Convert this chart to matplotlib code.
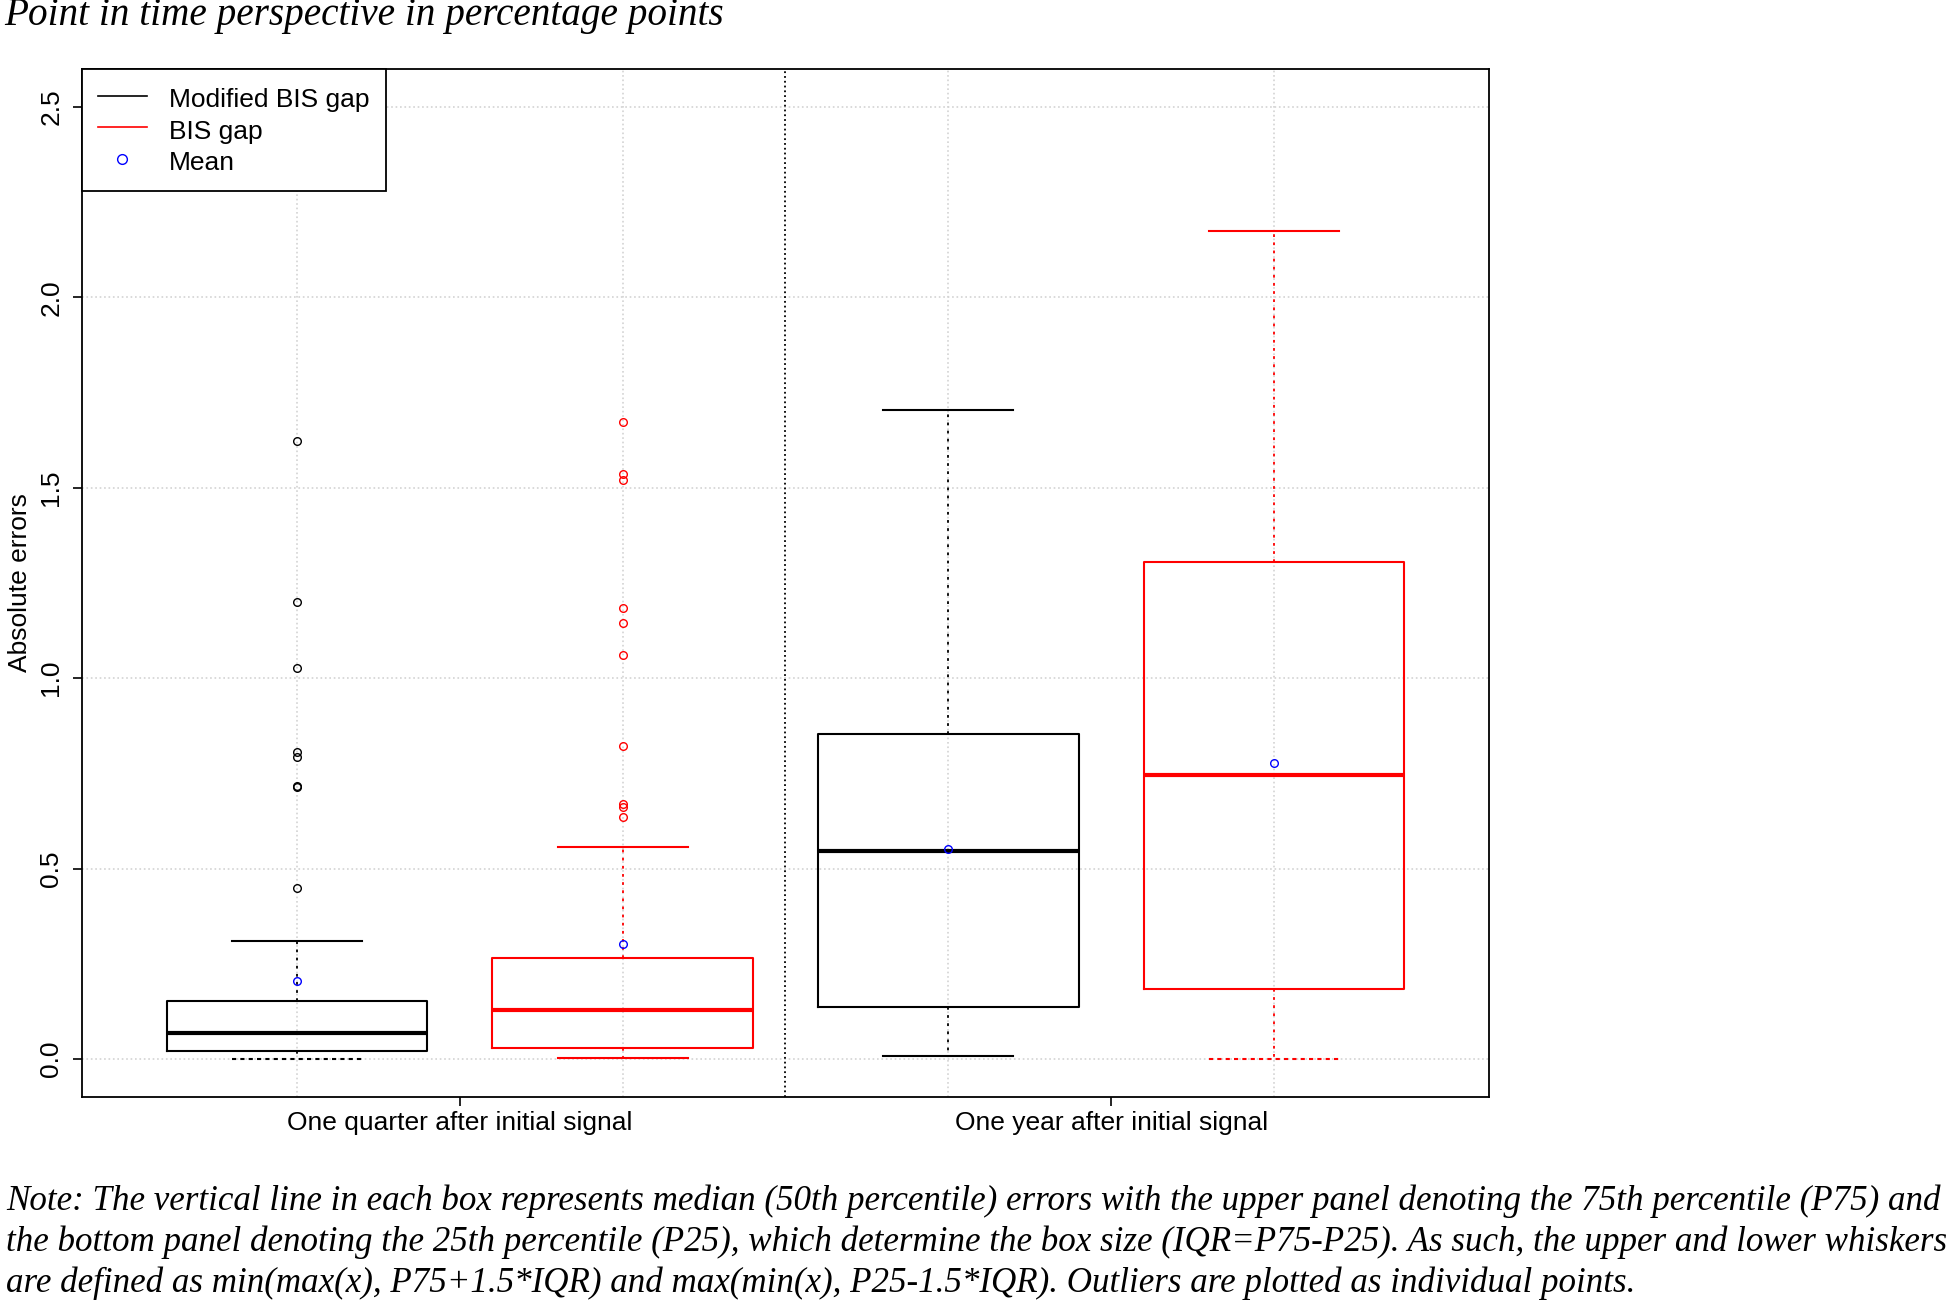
import matplotlib.pyplot as plt
from matplotlib.lines import Line2D

# values (absolute errors, percentage points)
group_labels = ["One quarter after initial signal", "One year after initial signal"]
series_names = ["Modified BIS gap", "BIS gap"]
series_colors = ["black", "red"]

positions = [1, 2, 3, 4]
q1 = [0.020, 0.028, 0.137, 0.183]
median = [0.068, 0.129, 0.545, 0.746]
q3 = [0.151, 0.265, 0.854, 1.305]
whisker_low = [0.0, 0.002, 0.007, 0.0]
whisker_high = [0.311, 0.557, 1.705, 2.175]
means = [0.205, 0.301, 0.551, 0.776]
outliers = [
    [1.623, 1.201, 1.028, 0.805, 0.793, 0.716, 0.713, 0.448],
    [1.672, 1.537, 1.520, 1.184, 1.145, 1.062, 0.823, 0.670, 0.662, 0.636],
    [],
    [],
]

title = "Point in time perspective in percentage points"
note = ("Note: The vertical line in each box represents median (50th percentile) errors with the upper panel denoting the 75th percentile (P75) and\n"
        "the bottom panel denoting the 25th percentile (P25), which determine the box size (IQR=P75-P25). As such, the upper and lower whiskers\n"
        "are defined as min(max(x), P75+1.5*IQR) and max(min(x), P25-1.5*IQR). Outliers are plotted as individual points.")

plt.rcParams['font.family'] = ['Liberation Sans', 'DejaVu Sans']

fig = plt.figure(figsize=(19.46, 13.06), dpi=100)
ax = fig.add_axes([82 / 1946, 1 - 1097 / 1306, (1489 - 82) / 1946, (1097 - 69) / 1306])

# grid first so boxes sit on top
for y in [0, 0.5, 1.0, 1.5, 2.0, 2.5]:
    ax.axhline(y, color='lightgray', linestyle=':', linewidth=1.2, zorder=0)
for x in positions:
    ax.axvline(x, color='lightgray', linestyle=':', linewidth=1.2, zorder=0)
ax.axvline(2.5, color='black', linestyle=':', linewidth=1.3, zorder=1)

stats = []
for i in range(4):
    stats.append({'q1': q1[i], 'med': median[i], 'q3': q3[i],
                  'whislo': whisker_low[i], 'whishi': whisker_high[i],
                  'fliers': outliers[i]})

for i, st in enumerate(stats):
    c = series_colors[i % 2]
    parts = ax.bxp([st], positions=[positions[i]], widths=0.8, capwidths=0.4,
                   showfliers=True, patch_artist=False,
                   boxprops=dict(color=c, linewidth=1.5),
                   medianprops=dict(color=c, linewidth=3),
                   whiskerprops=dict(color=c, linewidth=1.3, linestyle=(0, (1.5, 3))),
                   capprops=dict(color=c, linewidth=1.5),
                   flierprops=dict(marker='o', markerfacecolor='none', markeredgecolor=c,
                                   markersize=5.5, markeredgewidth=1.0))
    for cap, v in zip(parts['caps'], [st['whislo'], st['whishi']]):
        if v == 0:
            cap.set_linestyle((0, (2, 2)))

ax.plot(positions, means, 'o', markerfacecolor='none', markeredgecolor='blue',
        markersize=5.5, markeredgewidth=1.0, linestyle='none', zorder=5)

ax.set_xlim(0.34, 4.66)
ax.set_ylim(-0.1, 2.6)
ax.set_yticks([0, 0.5, 1.0, 1.5, 2.0, 2.5])
ax.set_yticklabels(["0.0", "0.5", "1.0", "1.5", "2.0", "2.5"], rotation=90, va='center')
ax.set_xticks([1.5, 3.5])
ax.set_xticklabels(group_labels)
ax.tick_params(axis='both', labelsize=19, length=6.5, width=1.2, direction='out')
ax.tick_params(axis='y', pad=7)
ax.tick_params(axis='x', pad=3.5)
ax.set_ylabel("Absolute errors", fontsize=19, labelpad=5.5)
for s in ax.spines.values():
    s.set_linewidth(1.3)

handles = [Line2D([], [], color='black', linewidth=1.2),
           Line2D([], [], color='red', linewidth=1.2),
           Line2D([], [], marker='o', linestyle='none', markerfacecolor='none',
                  markeredgecolor='blue', markersize=7)]
leg = ax.legend(handles, series_names + ["Mean"], loc='upper left', fontsize=19,
                borderaxespad=0, fancybox=False, framealpha=1, edgecolor='black',
                handlelength=1.85, handletextpad=0.86, borderpad=0.6,
                labelspacing=0.15, handleheight=1.2)
leg.get_frame().set_linewidth(1.3)

fig.text(0.002, 1 - 16 / 1306, title, fontsize=28.3, style='italic',
         family='Liberation Serif', va='center', ha='left')
fig.text(0.003, 1 - 1184 / 1306, note, fontsize=25.2, style='italic',
         family='Liberation Serif', va='top', ha='left', linespacing=1.3)

fig.savefig('out.png', dpi=100)
